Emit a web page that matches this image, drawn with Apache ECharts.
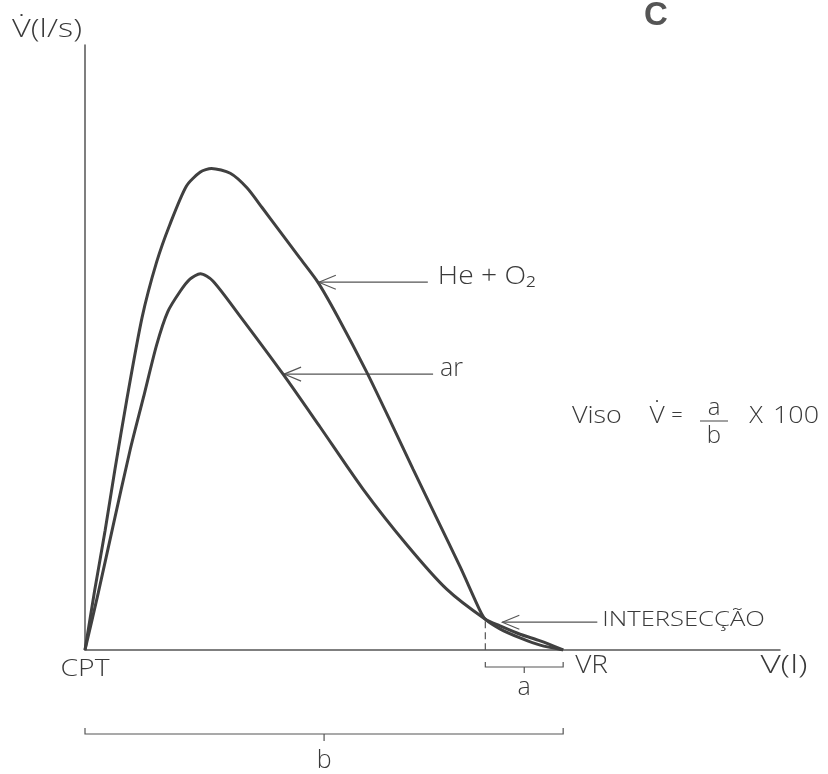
<!DOCTYPE html>
<html><head><meta charset="utf-8">
<script src="https://cdn.jsdelivr.net/npm/echarts@6/dist/echarts.min.js"></script>
<style>html,body{margin:0;padding:0;background:#fff}#c{width:828px;height:774px}</style>
</head><body><div id="c"></div>
<script>
// Flow-volume curves (volume in arbitrary units from CPT, flow in arbitrary units)
const heO2Volume = [0, 1.4, 2.9, 4.3, 6.0, 8.2, 10.3, 12.2, 14.6, 16.6, 18.2, 20.9, 23.3, 25.5, 28.1, 30.9, 33.5, 36.4, 40.5, 43.9, 47.2, 50.6, 54.0, 56.8, 57.6, 59.7, 62.6, 65.5, 68.8];
const heO2Flow   = [0, 9.9, 19.8, 29.8, 41.3, 54.9, 64.1, 70.3, 76.7, 79.0, 79.6, 78.8, 76.4, 73.1, 69.1, 64.8, 60.8, 55.0, 46.0, 37.9, 29.9, 21.8, 13.7, 6.6, 5.1, 3.5, 2.0, 0.8, 0];
const airVolume  = [0, 1.9, 4.0, 6.5, 8.4, 10.3, 11.9, 13.7, 15.1, 16.6, 18.4, 22.3, 28.5, 33.8, 40.0, 46.3, 52.0, 57.6, 59.7, 62.6, 65.5, 68.8];
const airFlow    = [0, 9.4, 20.3, 33.1, 41.7, 50.4, 55.9, 59.3, 61.3, 62.2, 61.0, 55.2, 45.6, 36.9, 26.6, 17.4, 10.1, 5.1, 4.0, 2.6, 1.5, 0];
const intersection = [57.6, 5.1];
const cptVolume = 0;
const vrVolume = 68.8;
const heArrowIndex = 16;
const airArrowIndex = 12;

// Texts
const seriesNames = ['He + O\u2082', 'ar'];
const axisNames = ['V\u0307(l/s)', 'V(l)'];
const pointNames = ['CPT', 'VR', 'INTERSEC\u00c7\u00c3O'];
const bracketNames = ['a', 'b'];
const panelLetter = 'C';
const formulaParts = ['Viso', 'V\u0307', '=', 'a', 'b', 'X', '100'];

const zip = (xs, ys) => xs.map((x, i) => [x, ys[i]]);

const FONT = '"Open Sans", "DejaVu Sans", sans-serif';
const INK = '#3a3a3a';
function txt(x, y, s, size, opts) {
  opts = opts || {};
  return {
    type: 'text', x: x, y: y, scaleX: opts.sx || 1,
    style: {
      text: s, fill: opts.fill || INK, fontSize: size, fontFamily: opts.family || FONT,
      fontWeight: opts.weight || 300, align: opts.align || 'center', verticalAlign: 'middle'
    }
  };
}
function line(pts, opts) {
  opts = opts || {};
  return {
    type: 'polyline', shape: { points: pts },
    style: { stroke: opts.stroke || '#555', lineWidth: opts.width || 1.2, fill: null, lineDash: opts.dash || null }
  };
}
function arrow(tip, tailX) {
  return [
    line([[tip[0], tip[1]], [tailX, tip[1]]], { width: 1.1 }),
    line([[tip[0] + 17, tip[1] - 7], [tip[0], tip[1]], [tip[0] + 17, tip[1] + 7]], { width: 1.1 })
  ];
}

function renderAnnotations(params, api) {
  const o = api.coord([cptVolume, 0]);
  const vr = api.coord([vrVolume, 0]);
  const inter = api.coord(intersection);
  const interBase = api.coord([intersection[0], 0]);
  const heTip = api.coord([heO2Volume[heArrowIndex], heO2Flow[heArrowIndex]]);
  const airTip = api.coord([airVolume[airArrowIndex], airFlow[airArrowIndex]]);
  const xEnd = api.coord([100, 0]);
  const yTop = api.coord([0, 100]);
  const ch = [];

  // arrows + labels
  arrow([heTip[0] + 1, heTip[1]], heTip[0] + 110).forEach(e => ch.push(e));
  ch.push(txt(heTip[0] + 120, heTip[1] - 5, seriesNames[0], 25, { align: 'left', sx: 1.13 }));
  arrow([airTip[0] + 1, airTip[1]], airTip[0] + 150).forEach(e => ch.push(e));
  ch.push(txt(airTip[0] + 157, airTip[1] - 5, seriesNames[1], 25, { align: 'left' }));
  arrow([inter[0] + 17, inter[1] + 3], inter[0] + 112).forEach(e => ch.push(e));
  ch.push(txt(inter[0] + 117, inter[1] + 1, pointNames[2], 20, { align: 'left', sx: 1.28 }));

  // dashed drop line at the intersection
  ch.push(line([[inter[0], inter[1] + 2], [interBase[0], interBase[1]]], { dash: [7, 4], width: 1.2 }));

  // bracket a
  const ay = o[1] + 17;
  const aMid = (interBase[0] + vr[0]) / 2;
  ch.push(line([[interBase[0], ay - 5], [interBase[0], ay], [vr[0], ay], [vr[0], ay - 5]]));
  ch.push(line([[aMid, ay], [aMid, ay + 6]]));
  ch.push(txt(aMid, ay + 21, bracketNames[0], 25));

  // bracket b
  const by = o[1] + 84;
  const bMid = (o[0] + vr[0]) / 2;
  ch.push(line([[o[0], by - 6], [o[0], by], [vr[0], by], [vr[0], by - 6]]));
  ch.push(line([[bMid, by], [bMid, by + 7]]));
  ch.push(txt(bMid, by + 27, bracketNames[1], 25));

  // axis point labels
  ch.push(txt(o[0], o[1] + 19, pointNames[0], 24, { sx: 1.18 }));
  ch.push(txt(vr[0] + 12, o[1] + 16, pointNames[1], 25, { align: 'left', sx: 1.12 }));
  ch.push(txt(xEnd[0] + 4, o[1] + 16, axisNames[1], 25, { sx: 1.4 }));
  ch.push(txt(yTop[0] - 38, yTop[1] - 15, axisNames[0], 25, { sx: 1.3 }));

  // panel letter
  ch.push(txt(656, 16, panelLetter, 33, { weight: 'bold', family: '"Liberation Sans", Arial, sans-serif', fill: '#555' }));

  // formula
  const fy = 416;
  ch.push(txt(572, fy, formulaParts[0], 24, { align: 'left', sx: 1.12 }));
  ch.push(txt(657, fy, formulaParts[1], 24, { sx: 1.1 }));
  ch.push(txt(677, fy, formulaParts[2], 20));
  ch.push(txt(714, fy - 8, formulaParts[3], 24));
  ch.push(line([[700, fy + 5], [728, fy + 5]], { width: 1.1 }));
  ch.push(txt(714, fy + 20, formulaParts[4], 24));
  ch.push(txt(756, fy, formulaParts[5], 23, { sx: 1.1 }));
  ch.push(txt(796, fy, formulaParts[6], 24, { sx: 1.12 }));

  return { type: 'group', children: ch };
}

const chart = echarts.init(document.getElementById('c'), null, { renderer: 'canvas' });
chart.setOption({
  backgroundColor: '#ffffff',
  animation: false,
  grid: { left: 85, right: 48, top: 45, bottom: 124 },
  xAxis: {
    type: 'value', min: 0, max: 100,
    axisLine: { show: true, onZero: false, lineStyle: { color: '#555', width: 1.5 } },
    axisTick: { show: false }, axisLabel: { show: false }, splitLine: { show: false }
  },
  yAxis: {
    type: 'value', min: 0, max: 100,
    axisLine: { show: true, onZero: false, lineStyle: { color: '#555', width: 1.5 } },
    axisTick: { show: false }, axisLabel: { show: false }, splitLine: { show: false }
  },
  series: [
    { name: seriesNames[0], type: 'line', data: zip(heO2Volume, heO2Flow), smooth: 0.25, symbol: 'none',
      lineStyle: { color: '#404040', width: 3 } },
    { name: seriesNames[1], type: 'line', data: zip(airVolume, airFlow), smooth: 0.25, symbol: 'none',
      lineStyle: { color: '#404040', width: 3 } },
    { type: 'custom', data: [0], silent: true, clip: false, renderItem: renderAnnotations }
  ]
});
</script>
</body></html>
